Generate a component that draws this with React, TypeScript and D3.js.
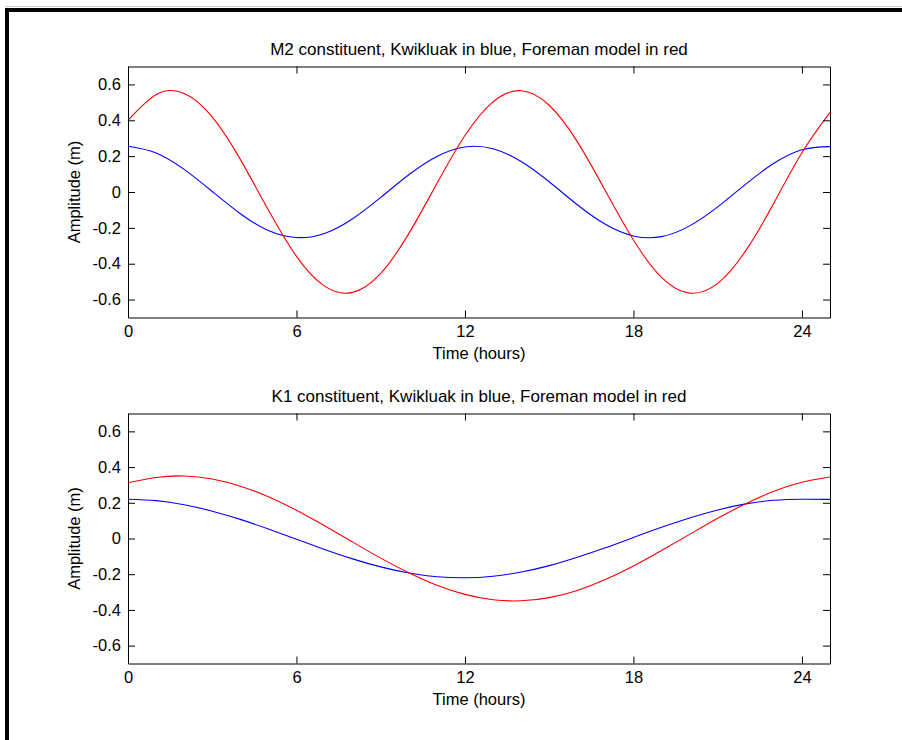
import * as d3 from "d3";
import { useRef, useEffect } from "react";

// hourly readings, t = 0..25 h
const hours = [0, 1, 2, 3, 4, 5, 6, 7, 8, 9, 10, 11, 12, 13, 14, 15, 16, 17, 18, 19, 20, 21, 22, 23, 24, 25];

const m2Kwikluak = [0.255, 0.218, 0.126, 0.003, -0.121, -0.215, -0.254, -0.231, -0.149, -0.030, 0.096, 0.198, 0.251,
    0.241, 0.170, 0.057, -0.071, -0.180, -0.245, -0.249, -0.189, -0.083, 0.044, 0.160, 0.236, 0.253];
const m2Foreman = [0.399, 0.543, 0.550, 0.419, 0.182, -0.101, -0.359, -0.525, -0.560, -0.454, -0.232, 0.047, 0.315,
    0.503, 0.565, 0.484, 0.281, 0.007, -0.268, -0.476, -0.564, -0.510, -0.327, -0.062, 0.219, 0.444];

const k1Kwikluak = [0.220, 0.212, 0.189, 0.153, 0.107, 0.053, -0.004, -0.061, -0.114, -0.159, -0.193, -0.214, -0.220,
    -0.211, -0.188, -0.152, -0.105, -0.052, 0.006, 0.063, 0.115, 0.160, 0.194, 0.214, 0.220, 0.219];
const k1Foreman = [0.312, 0.342, 0.350, 0.333, 0.293, 0.234, 0.158, 0.071, -0.020, -0.110, -0.192, -0.262, -0.313,
    -0.343, -0.349, -0.331, -0.291, -0.230, -0.154, -0.067, 0.023, 0.113, 0.195, 0.264, 0.315, 0.344];

const xTicks = [0, 6, 12, 18, 24];
const yTicks = [-0.6, -0.4, -0.2, 0, 0.2, 0.4, 0.6];

const FONT = "'Liberation Sans', Arial, Helvetica, sans-serif";
const FS = 16.5;

function Panel({ title, blue, red, top, bottom, left = 128, right = 830 }) {
    const gx = useRef();
    const gxTop = useRef();
    const gy = useRef();
    const gyRight = useRef();

    const x = d3.scaleLinear([0, 25], [left, right]);
    const y = d3.scaleLinear([-0.7, 0.7], [bottom, top]);
    const line = d3.line((d, i) => x(hours[i]), (d) => y(d)).curve(d3.curveNatural);
    const yFmt = (d) => (d === 0 ? "0" : d.toFixed(1));
    const xFmt = (d) => String(d);

    useEffect(() => {
        const style = (g) => {
            g.attr("font-family", FONT).attr("font-size", FS);
            g.selectAll("text").attr("fill", "#000");
            g.selectAll("line").attr("stroke", "#000");
            g.select(".domain").attr("stroke", "#000");
        };
        d3.select(gx.current)
            .call(d3.axisBottom(x).tickValues(xTicks).tickFormat(xFmt).tickSizeInner(-7).tickSizeOuter(0).tickPadding(8))
            .call(style);
        d3.select(gxTop.current)
            .call(d3.axisTop(x).tickValues(xTicks).tickFormat(() => "").tickSizeInner(-7).tickSizeOuter(0))
            .call(style);
        d3.select(gy.current)
            .call(d3.axisLeft(y).tickValues(yTicks).tickFormat(yFmt).tickSizeInner(-7).tickSizeOuter(0).tickPadding(7))
            .call(style);
        d3.select(gyRight.current)
            .call(d3.axisRight(y).tickValues(yTicks).tickFormat(() => "").tickSizeInner(-7).tickSizeOuter(0))
            .call(style);
    }, [top, bottom]);

    const cx = (left + right) / 2;
    return (
        <g>
            <rect x={left} y={top} width={right - left} height={bottom - top} fill="#fff" />
            <path d={line(blue)} fill="none" stroke="#0000ff" strokeWidth={1.1} />
            <path d={line(red)} fill="none" stroke="#ff0000" strokeWidth={1.1} />
            <g ref={gx} transform={`translate(0,${bottom})`} />
            <g ref={gxTop} transform={`translate(0,${top})`} />
            <g ref={gy} transform={`translate(${left},0)`} />
            <g ref={gyRight} transform={`translate(${right},0)`} />
            <text x={cx} y={top - 12} textAnchor="middle" fontFamily={FONT} fontSize={17}>{title}</text>
            <text x={cx} y={bottom + 41} textAnchor="middle" fontFamily={FONT} fontSize={FS}>Time (hours)</text>
            <text transform={`translate(80,${(top + bottom) / 2}) rotate(-90)`} textAnchor="middle" fontFamily={FONT} fontSize={FS}>Amplitude (m)</text>
        </g>
    );
}

export default function App() {
    return (
        <svg width={902} height={740} style={{ position: "absolute", left: 0, top: 0, background: "#fff" }}>
            <rect x={0} y={0} width={902} height={740} fill="#fff" />
            <line x1={5} x2={902} y1={6.5} y2={6.5} stroke="#cfcfcf" />
            <rect x={5} y={8} width={897} height={4} fill="#000" />
            <rect x={5} y={8} width={4} height={732} fill="#000" />
            <Panel title="M2 constituent, Kwikluak in blue, Foreman model in red"
                blue={m2Kwikluak} red={m2Foreman} top={66.5} bottom={317.5} />
            <Panel title="K1 constituent, Kwikluak in blue, Foreman model in red"
                blue={k1Kwikluak} red={k1Foreman} top={413.5} bottom={663.5} />
        </svg>
    );
}
